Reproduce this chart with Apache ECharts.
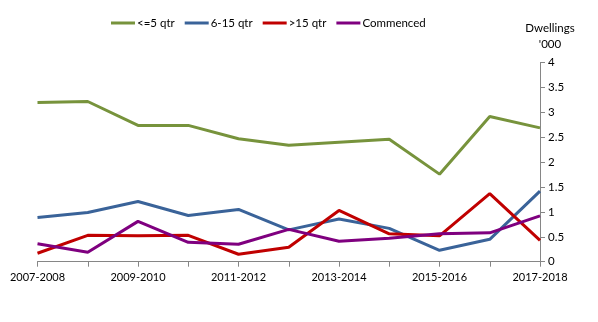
<!DOCTYPE html>
<html><head><meta charset="utf-8">
<script src="https://cdn.jsdelivr.net/npm/echarts@6/dist/echarts.min.js"></script>
<style>html,body{margin:0;padding:0;background:#fff}#c{width:598px;height:322px}</style>
</head><body><div id="c"></div>
<script>
var categories = ['2007-2008','2008-2009','2009-2010','2010-2011','2011-2012','2012-2013','2013-2014','2014-2015','2015-2016','2016-2017','2017-2018'];
var le5 = [3.20,3.22,2.74,2.74,2.47,2.34,2.40,2.46,1.76,2.92,2.69];
var q6to15 = [0.89,0.99,1.21,0.93,1.05,0.64,0.86,0.67,0.23,0.45,1.42];
var gt15 = [0.17,0.53,0.52,0.53,0.15,0.29,1.03,0.56,0.52,1.37,0.43];
var commenced = [0.36,0.19,0.81,0.39,0.35,0.65,0.41,0.47,0.56,0.58,0.92];
var seriesNames = ['<=5 qtr','6-15 qtr','>15 qtr','Commenced'];
var colors = ['#77933C','#3A6399','#C00000','#7F007F'];
var font = 'Lato';
var chart = echarts.init(document.getElementById('c'));
var data = [le5,q6to15,gt15,commenced];
chart.setOption({
  animation:false,
  textStyle:{fontFamily:font},
  legend:{top:12,left:106,itemWidth:24,itemHeight:3,itemGap:10,
    textStyle:{fontSize:11.5,color:'#000',fontFamily:font,padding:[0,0,0,-3]},
    icon:'rect',data:seriesNames},
  grid:{left:37.5,right:58,top:62.7,bottom:60.3},
  xAxis:{type:'category',data:categories,boundaryGap:false,
    axisLine:{lineStyle:{color:'#868686',width:1}},
    axisTick:{show:true,length:5,interval:0,lineStyle:{color:'#868686'}},
    axisLabel:{interval:1,color:'#000',fontSize:11,fontFamily:font,margin:10}},
  yAxis:{type:'value',position:'right',min:0,max:4,interval:0.5,
    name:'Dwellings\n\'000',nameLocation:'end',nameGap:10,
    nameTextStyle:{color:'#000',fontSize:11.5,fontFamily:font,align:'center',lineHeight:16,padding:[0,0,0,20]},
    axisLine:{show:true,lineStyle:{color:'#868686'}},
    axisTick:{show:true,length:5,lineStyle:{color:'#868686'}},
    splitLine:{show:false},
    axisLabel:{color:'#000',fontSize:11.5,fontFamily:font,margin:8}},
  series:seriesNames.map(function(n,i){return {name:n,type:'line',data:data[i],symbol:'none',
    lineStyle:{width:3,color:colors[i]},itemStyle:{color:colors[i]}};})
});
</script></body></html>
